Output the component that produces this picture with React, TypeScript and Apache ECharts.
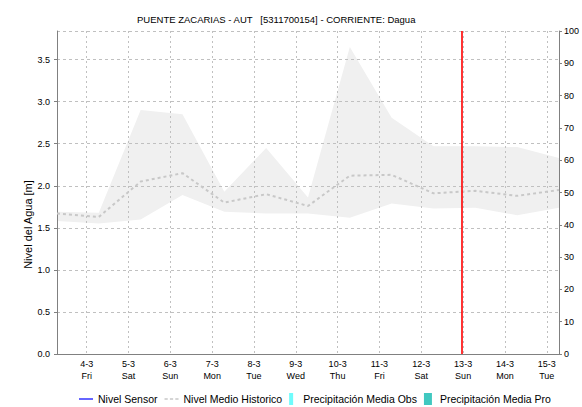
import React, { useEffect, useRef } from "react";
import * as echarts from "echarts";

// ---- data ----
const titleText = "PUENTE ZACARIAS - AUT   [5311700154] - CORRIENTE: Dagua";
const histDates = [
  "2022-03-03T07:00", "2022-03-04T07:00", "2022-03-05T07:00", "2022-03-06T07:00",
  "2022-03-07T07:00", "2022-03-08T07:00", "2022-03-09T07:00", "2022-03-10T07:00",
  "2022-03-11T07:00", "2022-03-12T07:00", "2022-03-13T07:00", "2022-03-14T07:00",
  "2022-03-15T07:00",
];
const histMax = [1.69, 1.68, 2.9, 2.85, 1.93, 2.45, 1.86, 3.65, 2.81, 2.47, 2.47, 2.46, 2.33];
const histMin = [1.58, 1.55, 1.6, 1.89, 1.69, 1.67, 1.67, 1.62, 1.79, 1.73, 1.74, 1.65, 1.74];
const histMean = [1.67, 1.63, 2.05, 2.15, 1.8, 1.9, 1.76, 2.12, 2.13, 1.91, 1.94, 1.88, 1.95];
const sensorLevel: [number, number][] = [];
const precipObs: [number, number][] = [];
const precipPro: [number, number][] = [];
const tickDates = [
  "2022-03-04T00:00", "2022-03-05T00:00", "2022-03-06T00:00", "2022-03-07T00:00",
  "2022-03-08T00:00", "2022-03-09T00:00", "2022-03-10T00:00", "2022-03-11T00:00",
  "2022-03-12T00:00", "2022-03-13T00:00", "2022-03-14T00:00", "2022-03-15T00:00",
];
const tickDayLabels = ["4-3", "5-3", "6-3", "7-3", "8-3", "9-3", "10-3", "11-3", "12-3", "13-3", "14-3", "15-3"];
const tickWeekdays = ["Fri", "Sat", "Sun", "Mon", "Tue", "Wed", "Thu", "Fri", "Sat", "Sun", "Mon", "Tue"];
const startDate = "2022-03-03T07:00";
const endDate = "2022-03-15T07:00";
const nowDate = "2022-03-12T23:00";
const levelMax = 3.84;
const precipMax = 100;

const FONT = "'Liberation Sans', Arial, sans-serif";

function toDay(s: string): number {
  const t = new Date(s + ":00Z").getTime();
  return (t - Date.UTC(2022, 1, 28)) / 86400000;
}

export default function App() {
  const ref = useRef<HTMLDivElement>(null);
  useEffect(() => {
    document.body.style.margin = "0";
    if (!ref.current) return;
    const chart = echarts.init(ref.current, undefined, { renderer: "svg" });
    const xs = histDates.map(toDay);
    const tickDays = tickDates.map(toDay);
    const xMin = toDay(startDate);
    const xMax = toDay(endDate);
    const labelFor = (v: number) => {
      const i = tickDays.findIndex((d) => Math.abs(d - v) < 1e-6);
      return i < 0 ? "" : tickDayLabels[i] + "\n" + tickWeekdays[i];
    };
    chart.setOption({
      animation: false,
      textStyle: { fontFamily: FONT },
      title: {
        text: titleText,
        left: 132,
        top: 9,
        textStyle: { fontSize: 9.5, fontWeight: "normal", color: "#000", fontFamily: FONT },
      },
      legend: {
        left: 74,
        top: 388,
        itemWidth: 14,
        itemHeight: 12,
        itemGap: 7,
        textStyle: { fontSize: 10.5, color: "#000", fontFamily: FONT },
        data: [
          { name: "Nivel Sensor", icon: "path://M0,0h14v1.2h-14z" },
          { name: "Nivel Medio Historico", icon: "path://M0,0h3v1.5h-3zM5,0h3v1.5h-3zM10,0h3v1.5h-3z" },
          { name: "Precipitación Media Obs", icon: "path://M0,0h4v12h-4z" },
          { name: "Precipitación Media Pro", icon: "path://M0,0h8v12h-8z" },
        ],
      },
      grid: { left: 57, right: 22, top: 31, bottom: 53 },
      xAxis: [
        {
          type: "value",
          min: xMin,
          max: xMax,
          axisLine: { show: true, lineStyle: { color: "#000", type: "dotted", width: 1 } },
          axisTick: { show: false, customValues: tickDays },
          axisLabel: {
            customValues: tickDays,
            formatter: labelFor,
            fontSize: 9,
            lineHeight: 12,
            margin: 4,
            color: "#000",
            fontFamily: FONT,
          },
          splitLine: { show: true, lineStyle: { color: "#c0c0c0", type: [2, 3], width: 1 } },
        },
        {
          type: "value",
          position: "top",
          min: xMin,
          max: xMax,
          axisLine: { show: true, lineStyle: { color: "#808080", width: 1 } },
          axisTick: { show: false },
          axisLabel: { show: false },
          splitLine: { show: false },
        },
      ],
      yAxis: [
        {
          type: "value",
          min: 0,
          max: levelMax,
          interval: 0.5,
          name: "Nivel del Agua [m]",
          nameLocation: "middle",
          nameGap: 24,
          nameMoveOverlap: false,
          nameTextStyle: { fontSize: 11, color: "#000", fontFamily: FONT, padding: [0, 64, 0, 0] },
          axisLine: { show: true, lineStyle: { color: "#808080", width: 1 } },
          axisTick: { show: true, length: 3, lineStyle: { color: "#808080" } },
          axisLabel: {
            fontSize: 9,
            margin: 7,
            color: "#000",
            showMaxLabel: false,
            fontFamily: FONT,
            formatter: (v: number) => (Math.abs(v / 0.5 - Math.round(v / 0.5)) < 1e-6 ? v.toFixed(1) : ""),
          },
          splitLine: { show: true, lineStyle: { color: "#c0c0c0", type: [3, 3], width: 1 } },
        },
        {
          type: "value",
          min: 0,
          max: precipMax,
          interval: 10,
          position: "right",
          axisLine: { show: true, lineStyle: { color: "#808080", width: 1 } },
          axisTick: { show: true, length: 3, lineStyle: { color: "#808080" } },
          axisLabel: { fontSize: 9, margin: 5, color: "#000", fontFamily: FONT },
          splitLine: { show: false },
        },
      ],
      series: [
        {
          name: "bandMax",
          type: "line",
          z: -2,
          silent: true,
          symbol: "none",
          lineStyle: { opacity: 0 },
          areaStyle: { color: "#f0f0f0", opacity: 1 },
          data: xs.map((x, i) => [x, histMax[i]]),
        },
        {
          name: "bandMin",
          type: "line",
          z: -1,
          silent: true,
          symbol: "none",
          lineStyle: { opacity: 0 },
          areaStyle: { color: "#ffffff", opacity: 1 },
          data: xs.map((x, i) => [x, histMin[i]]),
        },
        {
          name: "Nivel Medio Historico",
          type: "line",
          symbol: "none",
          color: "#c8c8c8",
          lineStyle: { color: "#c8c8c8", width: 2, type: [3, 3] },
          data: xs.map((x, i) => [x, histMean[i]]),
        },
        {
          name: "Nivel Sensor",
          type: "line",
          symbol: "none",
          color: "#0000ff",
          lineStyle: { color: "#0000ff", width: 1 },
          data: sensorLevel,
          markLine: {
            silent: true,
            symbol: "none",
            label: { show: false },
            lineStyle: { color: "rgba(255,0,0,0.8)", width: 2, type: "solid" },
            data: [{ xAxis: toDay(nowDate) }],
          },
        },
        {
          name: "Precipitación Media Obs",
          type: "bar",
          yAxisIndex: 1,
          color: "#6ffcfc",
          data: precipObs,
        },
        {
          name: "Precipitación Media Pro",
          type: "bar",
          yAxisIndex: 1,
          color: "#40c8c0",
          data: precipPro,
        },
      ],
    });
    return () => chart.dispose();
  }, []);
  return <div ref={ref} style={{ width: 582, height: 407 }} />;
}
